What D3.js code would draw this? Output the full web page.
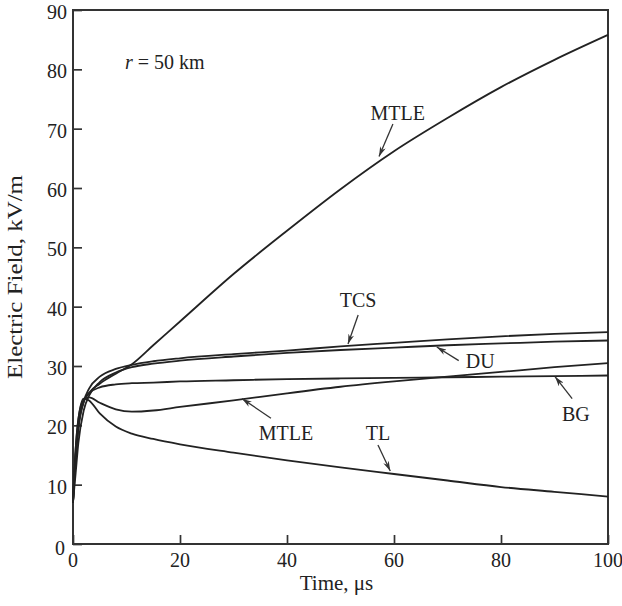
<!DOCTYPE html>
<html>
<head>
<meta charset="utf-8">
<script src="https://cdn.jsdelivr.net/npm/d3@7"></script>
<style>
  body { margin: 0; background: #fff; }
  text { font-family: "Liberation Serif", "Times New Roman", serif; fill: #222; }
</style>
</head>
<body>
<div id="chart"></div>
<script>
// time grid (µs) shared by all curves
const times = [0, 0.5, 1, 2, 3, 5, 8, 11, 15, 20, 30, 40, 50, 60, 70, 80, 90, 100];
// electric field, kV/m
const mtleUpper = [7, 15, 20, 24, 25.5, 27, 28.7, 30.3, 33.5, 37.5, 45.5, 52.8, 59.8, 66.2, 71.8, 77, 81.6, 85.8];
const tcs = [7, 14, 19.5, 24, 26.2, 28.2, 29.5, 30.2, 30.8, 31.3, 32.0, 32.6, 33.3, 33.9, 34.5, 35.0, 35.4, 35.7];
const du = [7, 12, 17, 22.5, 25, 27.3, 28.9, 29.8, 30.4, 30.9, 31.6, 32.2, 32.7, 33.1, 33.5, 33.8, 34.1, 34.3];
const bg = [7, 15, 19.5, 24, 25.4, 26.4, 26.9, 27.1, 27.2, 27.4, 27.6, 27.8, 27.9, 28.0, 28.1, 28.2, 28.3, 28.4];
const mtleLower = [7, 16, 21, 24.3, 24.7, 23.8, 22.7, 22.3, 22.5, 23.1, 24.2, 25.4, 26.5, 27.4, 28.2, 29.0, 29.8, 30.5];
const tl = [7, 16, 21, 24.5, 24.2, 22.0, 19.8, 18.6, 17.7, 16.8, 15.4, 14.1, 12.9, 11.8, 10.7, 9.6, 8.8, 8.0];

const xTicks = [0, 20, 40, 60, 80, 100];
const yTicks = [0, 10, 20, 30, 40, 50, 60, 70, 80, 90];

// curve labels in data units: label centre, arrow start, arrow tip
const labelText = ["MTLE", "TCS", "DU", "BG", "MTLE", "TL"];
const labelAt = [[60.7, 72.7], [53.3, 41.1], [76.1, 30.9], [94.0, 21.9], [39.8, 18.7], [57.0, 18.7]];
const arrowFrom = [[59.8, 70.8], [53.3, 38.6], [72.1, 30.9], [93.3, 24.5], [37.0, 21.2], [57.0, 16.7]];
const arrowTo = [[57.2, 65.3], [51.4, 33.7], [68.0, 33.2], [90.1, 28.2], [31.6, 24.5], [59.3, 12.3]];

const W = 622, H = 606;
const margin = { top: 10, right: 14, bottom: 62, left: 73 },
    width = W - margin.left - margin.right,
    height = H - margin.top - margin.bottom;

const svg = d3.select("#chart").append("svg")
    .attr("width", W)
    .attr("height", H)
    .append("g")
    .attr("transform", `translate(${margin.left},${margin.top})`);

const x = d3.scaleLinear().domain([0, 100]).range([0, width]);
const y = d3.scaleLinear().domain([0, 90]).range([height, 0]);

svg.append("defs").append("marker")
    .attr("id", "arrow")
    .attr("viewBox", "0 0 10 6")
    .attr("refX", 10).attr("refY", 3)
    .attr("markerWidth", 10).attr("markerHeight", 6)
    .attr("markerUnits", "userSpaceOnUse")
    .attr("orient", "auto")
    .append("path")
    .attr("d", "M0,0 L10,3 L0,6 L3,3 Z")
    .attr("fill", "#333");

// ticks pointing inwards
const xAxis = d3.axisTop(x).tickValues(xTicks).tickSize(9).tickFormat("");
const yAxis = d3.axisRight(y).tickValues(yTicks).tickSize(9).tickFormat("");
svg.append("g").attr("transform", `translate(0,${height})`).call(xAxis)
    .call(g => g.select(".domain").remove())
    .selectAll("line").attr("stroke", "#333").attr("stroke-width", 1.7);
svg.append("g").call(yAxis)
    .call(g => g.select(".domain").remove())
    .selectAll("line").attr("stroke", "#333").attr("stroke-width", 1.7);

svg.append("rect")
    .attr("width", width).attr("height", height)
    .attr("fill", "none").attr("stroke", "#333").attr("stroke-width", 2);

svg.selectAll("text.xt").data(xTicks).enter().append("text")
    .attr("class", "xt")
    .attr("x", d => x(d)).attr("y", height + 23)
    .attr("text-anchor", "middle")
    .style("font-size", "20px")
    .text(d => d);
svg.selectAll("text.yt").data(yTicks).enter().append("text")
    .attr("class", "yt")
    .attr("x", d => d === 0 ? -8 : -6).attr("y", d => y(d) + (d === 0 ? 11 : 9))
    .attr("text-anchor", "end")
    .style("font-size", "20px")
    .text(d => d);

svg.append("text")
    .attr("x", x(50) - 4).attr("y", height + 46)
    .attr("text-anchor", "middle")
    .style("font-size", "21px")
    .text("Time, μs");
svg.append("text")
    .attr("transform", `translate(${-51},${y(45)}) rotate(-90)`)
    .attr("text-anchor", "middle")
    .style("font-size", "20px")
    .attr("textLength", 204)
    .attr("lengthAdjust", "spacingAndGlyphs")
    .text("Electric Field, kV/m");

const series = [mtleUpper, tcs, du, bg, mtleLower, tl];
const line = d3.line()
    .x((d, i) => x(times[i]))
    .y(d => y(d))
    .curve(d3.curveMonotoneX);
svg.selectAll("path.curve").data(series).enter().append("path")
    .attr("class", "curve")
    .attr("fill", "none")
    .attr("stroke", "#222")
    .attr("stroke-width", 1.8)
    .attr("d", line);

svg.selectAll("line.arr").data(labelText).enter().append("line")
    .attr("class", "arr")
    .attr("x1", (d, i) => x(arrowFrom[i][0])).attr("y1", (d, i) => y(arrowFrom[i][1]))
    .attr("x2", (d, i) => x(arrowTo[i][0])).attr("y2", (d, i) => y(arrowTo[i][1]))
    .attr("stroke", "#333").attr("stroke-width", 1.3)
    .attr("marker-end", "url(#arrow)");
svg.selectAll("text.lab").data(labelText).enter().append("text")
    .attr("class", "lab")
    .attr("x", (d, i) => x(labelAt[i][0])).attr("y", (d, i) => y(labelAt[i][1]) + 7)
    .attr("text-anchor", "middle")
    .style("font-size", "20px")
    .text(d => d);

const note = svg.append("text")
    .attr("x", x(9.7)).attr("y", y(81.3) + 7)
    .style("font-size", "20px");
note.append("tspan").style("font-style", "italic").text("r");
note.append("tspan").text(" = 50 km");
</script>
</body>
</html>
